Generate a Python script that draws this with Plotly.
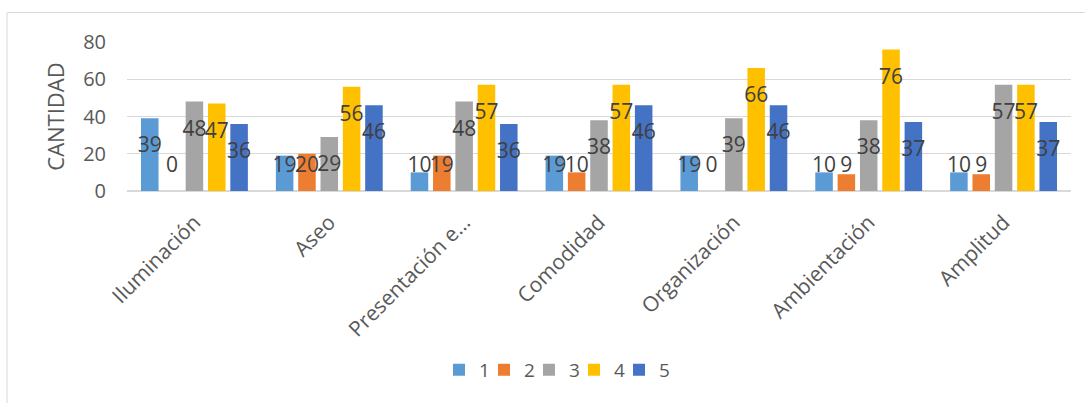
import plotly.graph_objects as go

categories = ["Iluminación", "Aseo", "Presentación e…", "Comodidad", "Organización", "Ambientación", "Amplitud"]
series_names = ["1", "2", "3", "4", "5"]
s1 = [39, 19, 10, 19, 19, 10, 10]
s2 = [0, 20, 19, 10, 0, 9, 9]
s3 = [48, 29, 48, 38, 39, 38, 57]
s4 = [47, 56, 57, 57, 66, 76, 57]
s5 = [36, 46, 36, 46, 46, 37, 37]
series_values = [s1, s2, s3, s4, s5]
colors = ["#5B9BD5", "#ED7D31", "#A5A5A5", "#FFC000", "#4472C4"]
y_ticks = [0, 20, 40, 60, 80]

FONT = "Open Sans"
fig = go.Figure()
legend_ids = ["legend"] + ["legend%d" % (i + 2) for i in range(len(series_names) - 1)]
for name, vals, col, lid in zip(series_names, series_values, colors, legend_ids):
    fig.add_trace(go.Bar(x=categories, y=vals, name=name, legend=lid,
                         marker=dict(color=col, line=dict(width=0))))

# data labels placed inside, below bar top (as in the reference)
for name, vals in zip(series_names, series_values):
    label_y = [max(v - 15.5, 12.8) for v in vals]
    fig.add_trace(go.Scatter(x=categories, y=label_y, mode="text", text=[str(v) for v in vals],
                             textposition="middle center",
                             textfont=dict(family=FONT, size=21, color="#404040"),
                             showlegend=False, hoverinfo="skip"))

legend_layout = {}
for i, lid in enumerate(legend_ids):
    legend_layout[lid] = dict(orientation="h", x=0.3305 + i * 0.04767, xanchor="left",
                              y=-1.2, yanchor="middle",
                              font=dict(family=FONT, size=19, color="#595959"),
                              itemwidth=30, bgcolor="rgba(0,0,0,0)")

fig.update_layout(
    width=1085, height=403, autosize=False,
    margin=dict(l=127, r=14, t=42, b=212),
    paper_bgcolor="white", plot_bgcolor="white",
    barmode="group", bargap=0.172, bargroupgap=0.215,
    scattermode="group",
    font=dict(family=FONT, color="#595959"),
    shapes=[
        dict(type="line", xref="paper", yref="paper", x0=-0.1271, x1=-0.1271, y0=1.198, y1=-2.0,
             line=dict(color="#D9D9D9", width=1)),
        dict(type="line", xref="paper", yref="paper", x0=-0.1271, x1=1.1, y0=1.198, y1=1.198,
             line=dict(color="#D9D9D9", width=1)),
    ],
    **legend_layout,
)
fig.update_yaxes(range=[0, 80], tickvals=y_ticks, showgrid=True, gridcolor="#D9D9D9", gridwidth=1,
                 zeroline=True, zerolinecolor="#D9D9D9", zerolinewidth=1.5,
                 tickfont=dict(family=FONT, size=20, color="#595959"), ticklabelstandoff=20,
                 title=dict(text="CANTIDAD", font=dict(family=FONT, size=22, color="#595959"), standoff=12),
                 showline=False)
fig.update_xaxes(tickangle=-45, tickfont=dict(family=FONT, size=21, color="#595959"),
                 ticklabelstandoff=14,
                 showline=False, showgrid=False, ticks="")

fig.write_html("out.html")
